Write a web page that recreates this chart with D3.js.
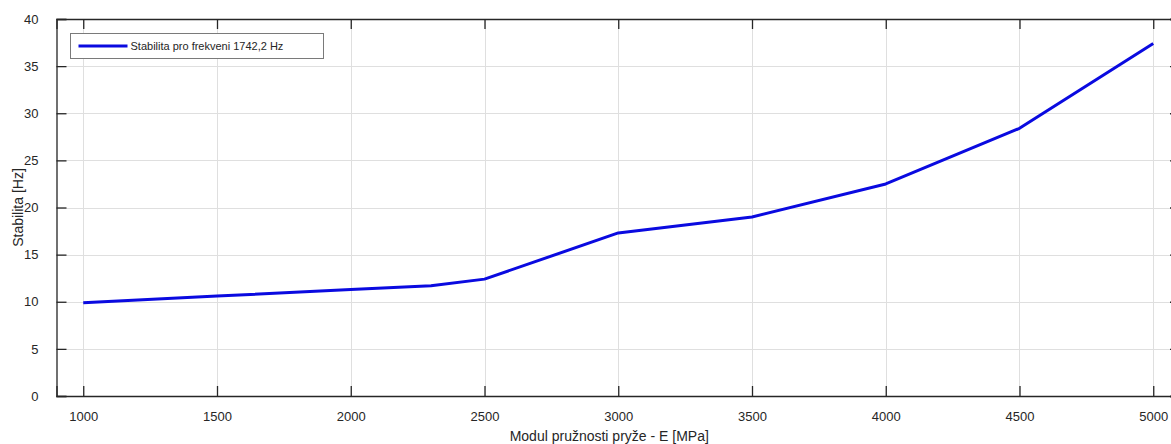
<!DOCTYPE html>
<html>
<head>
<meta charset="utf-8">
<script src="https://cdn.jsdelivr.net/npm/d3@7"></script>
<style>
  body { margin: 0; background: #fff; }
  svg { display: block; font-family: "Liberation Sans", Arial, sans-serif; }
</style>
</head>
<body>
<div id="chart"></div>
<script>
// values
var modul = [1000, 1500, 2000, 2300, 2500, 3000, 3500, 4000, 4500, 5000]
var stabilita = [9.9, 10.6, 11.3, 11.7, 12.4, 17.3, 19.0, 22.5, 28.4, 37.4]
var xTicks = [1000, 1500, 2000, 2500, 3000, 3500, 4000, 4500, 5000]
var yTicks = [0, 5, 10, 15, 20, 25, 30, 35, 40]
var seriesName = 'Stabilita pro frekveni 1742,2 Hz'

var width = 1171, height = 444
var padL = 56.5, padT = 19, padB = 396, padR = 1180
var axisColor = '#262626', gridColor = '#dfdfdf', lineColor = '#0a0ae0'

var svg = d3.select('#chart').append('svg')
  .attr('width', width).attr('height', height)

var x = d3.scaleLinear().domain([900, 5100]).range([padL, padR])
var y = d3.scaleLinear().domain([0, 40]).range([padB, padT])

// grid
svg.append('g').selectAll('line').data(xTicks).enter().append('line')
  .attr('x1', d => Math.round(x(d)) + 0.5).attr('x2', d => Math.round(x(d)) + 0.5)
  .attr('y1', padT).attr('y2', padB)
  .attr('stroke', gridColor)
svg.append('g').selectAll('line').data(yTicks).enter().append('line')
  .attr('y1', d => Math.round(y(d)) + 0.5).attr('y2', d => Math.round(y(d)) + 0.5)
  .attr('x1', padL).attr('x2', padR)
  .attr('stroke', gridColor)

// axes, ticks pointing inward like matlab
var fmt = d3.format('d')
var xAxis = d3.axisBottom(x).tickValues(xTicks).tickSize(-10).tickPadding(16).tickFormat(fmt)
var yAxis = d3.axisLeft(y).tickValues(yTicks).tickSize(-10).tickPadding(18).tickFormat(fmt)
var xTop = d3.axisTop(x).tickValues(xTicks).tickSize(-10).tickFormat('')
var yRight = d3.axisRight(y).tickValues(yTicks).tickSize(-10).tickFormat('')

function styleAxis(g){
  g.select('.domain').attr('stroke', axisColor).attr('stroke-width', 1.3)
  g.selectAll('.tick line').attr('stroke', axisColor).attr('stroke-width', 1.3)
  g.selectAll('.tick text').attr('fill', axisColor).style('font-size', '13px')
    .style('font-family', '"Liberation Sans", Arial, sans-serif')
}

svg.append('g').attr('transform', 'translate(0,' + padB + ')').call(xAxis).call(styleAxis)
svg.append('g').attr('transform', 'translate(' + padL + ',0)').call(yAxis).call(styleAxis)
svg.append('g').attr('transform', 'translate(0,' + padT + ')').call(xTop).call(styleAxis)
svg.append('g').attr('transform', 'translate(' + padR + ',0)').call(yRight).call(styleAxis)

// the line
var pts = modul.map((m, i) => [m, stabilita[i]])
svg.append('path').datum(pts)
  .attr('d', d3.line().x(d => x(d[0])).y(d => y(d[1])))
  .attr('fill', 'none').attr('stroke', lineColor).attr('stroke-width', 3)
  .attr('stroke-linejoin', 'round')

// axis labels
svg.append('text').attr('x', (padL + padR) / 2 - 9).attr('y', 441)
  .attr('text-anchor', 'middle').attr('fill', axisColor).style('font-size', '14px')
  .text('Modul pružnosti pryže - E [MPa]')
svg.append('text').attr('transform', 'translate(23,' + ((padT + padB) / 2) + ') rotate(-90)')
  .attr('text-anchor', 'middle').attr('fill', axisColor).style('font-size', '14px')
  .text('Stabilita [Hz]')

// legend
var lg = svg.append('g').attr('transform', 'translate(70.5,33.5)')
lg.append('rect').attr('width', 253).attr('height', 25)
  .attr('fill', '#fff').attr('stroke', '#7a7a7a').attr('stroke-width', 1)
lg.append('line').attr('x1', 8).attr('x2', 57).attr('y1', 12.5).attr('y2', 12.5)
  .attr('stroke', lineColor).attr('stroke-width', 3)
lg.append('text').attr('x', 60).attr('y', 16.5).attr('fill', axisColor)
  .style('font-size', '11px').text(seriesName)
</script>
</body>
</html>
